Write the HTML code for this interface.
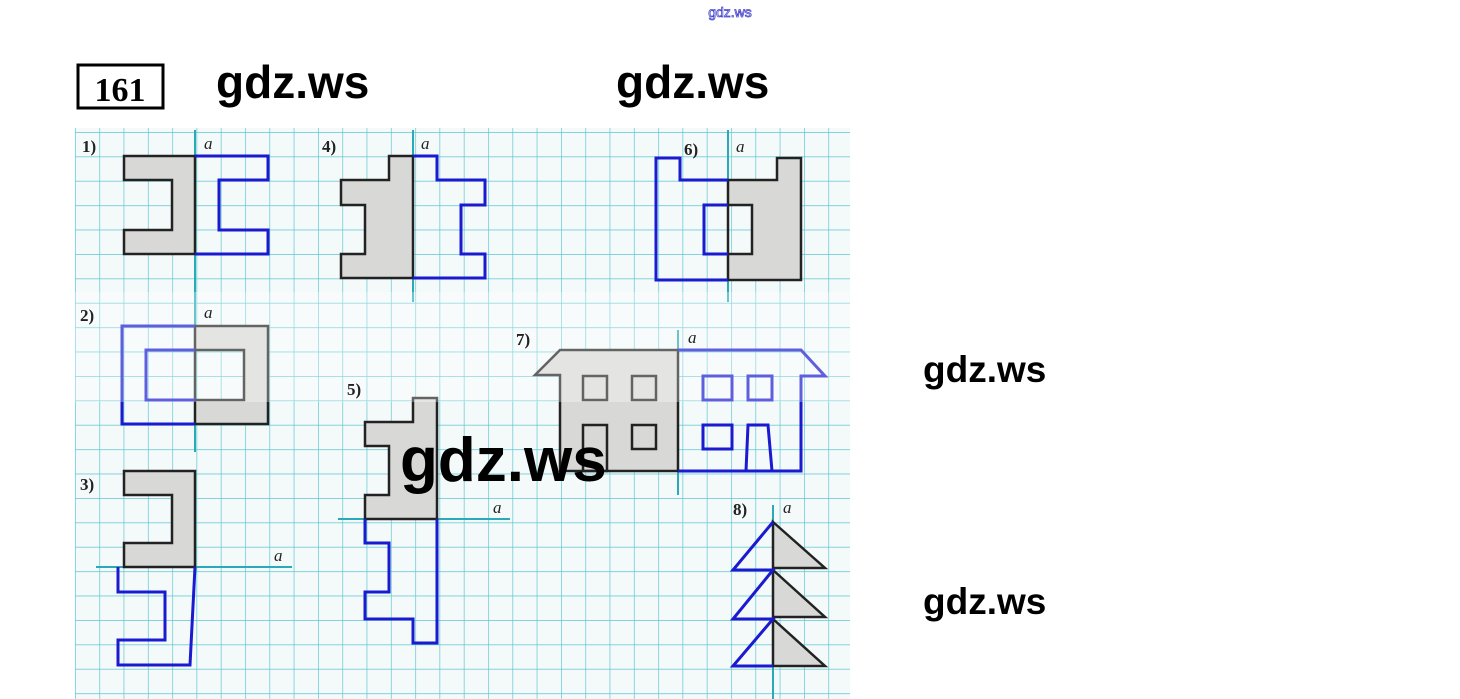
<!DOCTYPE html>
<html><head><meta charset="utf-8"><style>
html,body{margin:0;padding:0;background:#fff;}
body{width:1460px;height:699px;position:relative;overflow:hidden;font-family:"Liberation Sans",sans-serif;}
.w{position:absolute;font-weight:bold;color:#000;font-family:"Liberation Sans",sans-serif;line-height:1;}
</style></head><body>
<svg width="1460" height="699" style="position:absolute;left:0;top:0">
<defs>
<pattern id="g" x="75" y="132" width="24.3" height="24.4" patternUnits="userSpaceOnUse">
<path d="M0 0V24.4M0 0H24.3" stroke="#5ec6d2" stroke-width="1.4" fill="none"/>
</pattern>
</defs>
<rect x="75" y="128" width="775" height="571" fill="#f4fafa"/>
<rect x="75" y="128" width="775" height="571" fill="url(#g)"/>
<g stroke="#2aa9b8" stroke-width="2">
<line x1="195" y1="130" x2="195" y2="300"/>
<line x1="413" y1="130" x2="413" y2="302"/>
<line x1="728" y1="130" x2="728" y2="302"/>
<line x1="195" y1="300" x2="195" y2="452"/>
<line x1="96" y1="567" x2="292" y2="567"/>
<line x1="338" y1="519" x2="510" y2="519"/>
<line x1="678" y1="330" x2="678" y2="495"/>
<line x1="773" y1="505" x2="773" y2="699"/>
</g>
<g fill="#d8d8d6" stroke="#222" stroke-width="2.5" fill-rule="evenodd">
<path d="M124 156H195V254H124V230H172V180H124Z"/>
<path d="M341 180H389V156H413V278H341V254H365V205H341Z"/>
<path d="M728 180H777V158H801V280H728Z M728 205H752V254H728Z"/>
<path d="M195 326H268V424H195Z M195 350H244V400H195Z"/>
<path d="M124 471H195V567H124V543H172V495H124Z"/>
<path d="M413 398H437V519H365V495H389V446H365V422H413Z"/>
<path d="M535 375L560 350H678V471H560V375Z"/>
<path d="M773 522L825 568H773Z M773 570L825 617H773Z M773 619L825 666H773Z"/>
</g>
<g fill="none" stroke="#222" stroke-width="2.5">
<rect x="583" y="376" width="24" height="24"/><rect x="632" y="376" width="24" height="24"/>
<rect x="583" y="425" width="24" height="46"/><rect x="632" y="425" width="24" height="24"/>
</g>
<g fill="none" stroke="#1a1ad0" stroke-width="3">
<path d="M195 156H268V180H219V230H268V254H195"/>
<path d="M413 156H437V180H485V205H461V254H485V278H413"/>
<path d="M728 180H680V158H656V280H728 M728 205H704V254H728"/>
<path d="M195 326H122V424H195 M195 350H146V400H195"/>
<path d="M195 567L190 665H118V640H165V592H118V567"/>
<path d="M437 519V643H413V619H365V592H389V543H365V519"/>
<path d="M678 350H801L825 376H801V471H678"/>
<rect x="703" y="376" width="29" height="24"/><rect x="748" y="376" width="24" height="24"/>
<rect x="703" y="425" width="29" height="24"/><path d="M746 471L748 425H768L772 471"/>
<path d="M773 522L733 570H773L733 619H773L733 666H773"/>
</g>
<rect x="75" y="292" width="775" height="110" fill="#fff" opacity="0.3"/>
<g font-family="Liberation Serif,serif" font-weight="bold" font-size="17" fill="#222">
<text x="82" y="152">1)</text><text x="322" y="152">4)</text><text x="684" y="155">6)</text>
<text x="80" y="321">2)</text><text x="80" y="490">3)</text><text x="347" y="395">5)</text>
<text x="516" y="345">7)</text><text x="733" y="515">8)</text>
</g>
<g font-family="Liberation Serif,serif" font-style="italic" font-size="17" fill="#222">
<text x="204" y="149">a</text><text x="421" y="149">a</text><text x="736" y="152">a</text>
<text x="204" y="318">a</text><text x="274" y="561">a</text><text x="493" y="513">a</text>
<text x="688" y="343">a</text><text x="783" y="513">a</text>
</g>
<rect x="78" y="65" width="85" height="43" fill="#fff" stroke="#000" stroke-width="3"/>
<text x="120" y="101" text-anchor="middle" font-family="Liberation Serif,serif" font-weight="bold" font-size="34">161</text>
<text x="730" y="17" text-anchor="middle" font-size="14" fill="#fff" stroke="#4444cc" stroke-width="0.8" font-family="Liberation Sans,sans-serif">gdz.ws</text>
</svg>
<div class="w" style="left:216px;top:59px;font-size:46px">gdz.ws</div>
<div class="w" style="left:616px;top:59px;font-size:46px">gdz.ws</div>
<div class="w" style="left:923px;top:351px;font-size:37px">gdz.ws</div>
<div class="w" style="left:400px;top:430px;font-size:62px">gdz.ws</div>
<div class="w" style="left:923px;top:583px;font-size:37px">gdz.ws</div>
</body></html>
